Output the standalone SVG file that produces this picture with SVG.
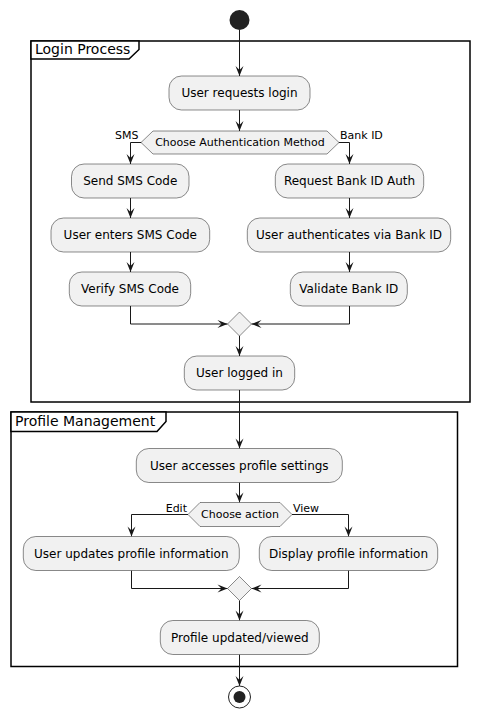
<svg xmlns="http://www.w3.org/2000/svg" width="479" height="718" viewBox="0 0 479 718">
<defs>
<style>
.frame{fill:none;stroke:#000;stroke-width:1.5}
.tab{fill:#fff;stroke:#000;stroke-width:1.5}
.title{font-family:"DejaVu Sans",sans-serif;font-size:14px;fill:#000}
.act{fill:#F1F1F1;stroke:#181818;stroke-width:0.5}
.t{font-family:"DejaVu Sans",sans-serif;font-size:12px;fill:#000;text-anchor:middle}
.d{font-family:"DejaVu Sans",sans-serif;font-size:11px;fill:#000;text-anchor:middle}
.lbl{font-family:"DejaVu Sans",sans-serif;font-size:11px;fill:#000}
.c{fill:none;stroke:#181818;stroke-width:1;marker-end:url(#ah)}
</style>
<marker id="ah" viewBox="-11 -5 12 10" refX="0" refY="0" markerWidth="12" markerHeight="10" markerUnits="userSpaceOnUse" orient="auto">
<path d="M0,0 L-10,-4 L-6,0 L-10,4 Z" fill="#181818"/>
</marker>
</defs>
<rect width="479" height="718" fill="#fff"/>

<g id="frame-login">
<rect class="frame" x="31" y="41" width="439" height="361"/>
<path class="tab" d="M31,41 H139 V49.5 L129,59 H31 Z"/>
<text class="title" x="35" y="54">Login Process</text>
</g>
<g id="frame-profile">
<rect class="frame" x="11" y="412" width="446.5" height="254.5"/>
<path class="tab" d="M11,412 H166 V421.5 L157,431.5 H11 Z"/>
<text class="title" x="15" y="426">Profile Management</text>
</g>

<g id="connectors">
<path class="c" d="M239.5,30 V76"/>
<path class="c" d="M239.5,110 V131"/>
<path class="c" d="M141,142.5 H130.5 V164"/>
<path class="c" d="M339,142.5 H349.5 V164"/>
<path class="c" d="M130.5,198 V218"/>
<path class="c" d="M130.5,252 V272"/>
<path class="c" d="M349.5,198 V218"/>
<path class="c" d="M349.5,252 V272"/>
<path class="c" d="M130.5,306 V324 H227.5"/>
<path class="c" d="M349.5,306 V324 H251.5"/>
<path class="c" d="M239.5,336 V356"/>
<path class="c" d="M239.5,390 V448.5"/>
<path class="c" d="M239.5,482.5 V502.5"/>
<path class="c" d="M188,514.5 H131.5 V536.5"/>
<path class="c" d="M292,514.5 H348.5 V536.5"/>
<path class="c" d="M131.5,570.5 V588.5 H227.5"/>
<path class="c" d="M348.5,570.5 V588.5 H251.5"/>
<path class="c" d="M239.5,600.5 V620.5"/>
<path class="c" d="M239.5,654.5 V686"/>
</g>

<g id="start"><circle cx="239.5" cy="20" r="10" fill="#222"/></g>

<g id="n-login-request">
<rect class="act" x="169" y="76" width="141" height="34" rx="12.5"/>
<text class="t" x="239.5" y="97">User requests login</text>
</g>
<g id="d-auth">
<polygon class="act" points="141,142.5 153,131 327,131 339,142.5 327,154 153,154"/>
<text class="d" x="240" y="146">Choose Authentication Method</text>
<text class="lbl" x="115" y="139">SMS</text>
<text class="lbl" x="340" y="139">Bank ID</text>
</g>
<g id="n-send-sms">
<rect class="act" x="71.5" y="164" width="117.5" height="34" rx="12.5"/>
<text class="t" x="130.3" y="185">Send SMS Code</text>
</g>
<g id="n-request-bankid">
<rect class="act" x="275.3" y="164" width="148.4" height="34" rx="12.5"/>
<text class="t" x="349.5" y="185">Request Bank ID Auth</text>
</g>
<g id="n-enter-sms">
<rect class="act" x="51" y="218" width="158.7" height="34" rx="12.5"/>
<text class="t" x="130.3" y="239">User enters SMS Code</text>
</g>
<g id="n-auth-bankid">
<rect class="act" x="247.3" y="218" width="203.4" height="34" rx="12.5"/>
<text class="t" x="349" y="239">User authenticates via Bank ID</text>
</g>
<g id="n-verify-sms">
<rect class="act" x="69.3" y="272" width="121.4" height="34" rx="12.5"/>
<text class="t" x="130" y="293">Verify SMS Code</text>
</g>
<g id="n-validate-bankid">
<rect class="act" x="290.3" y="272" width="117" height="34" rx="12.5"/>
<text class="t" x="348.8" y="293">Validate Bank ID</text>
</g>
<g id="m-login">
<polygon class="act" points="239.5,312 251.5,324 239.5,336 227.5,324"/>
</g>
<g id="n-logged-in">
<rect class="act" x="184.3" y="356" width="110.4" height="34" rx="12.5"/>
<text class="t" x="239.5" y="377">User logged in</text>
</g>

<g id="n-profile-settings">
<rect class="act" x="136.3" y="448.5" width="206" height="34" rx="12.5"/>
<text class="t" x="239.3" y="469.5">User accesses profile settings</text>
</g>
<g id="d-action">
<polygon class="act" points="188,514.5 200,502.5 280,502.5 292,514.5 280,526.5 200,526.5"/>
<text class="d" x="240" y="518">Choose action</text>
<text class="lbl" x="187" y="512" text-anchor="end">Edit</text>
<text class="lbl" x="293" y="512">View</text>
</g>
<g id="n-update-profile">
<rect class="act" x="23.3" y="536.5" width="216" height="34" rx="12.5"/>
<text class="t" x="131.3" y="557.5">User updates profile information</text>
</g>
<g id="n-display-profile">
<rect class="act" x="259.3" y="536.5" width="178.4" height="34" rx="12.5"/>
<text class="t" x="348.5" y="557.5">Display profile information</text>
</g>
<g id="m-profile">
<polygon class="act" points="239.5,576.5 251.5,588.5 239.5,600.5 227.5,588.5"/>
</g>
<g id="n-profile-done">
<rect class="act" x="160.3" y="620.5" width="159" height="34" rx="12.5"/>
<text class="t" x="239.8" y="641.5">Profile updated/viewed</text>
</g>

<g id="end">
<circle cx="239.5" cy="697" r="11" fill="none" stroke="#222" stroke-width="1"/>
<circle cx="239.5" cy="697" r="6" fill="#222"/>
</g>
</svg>
